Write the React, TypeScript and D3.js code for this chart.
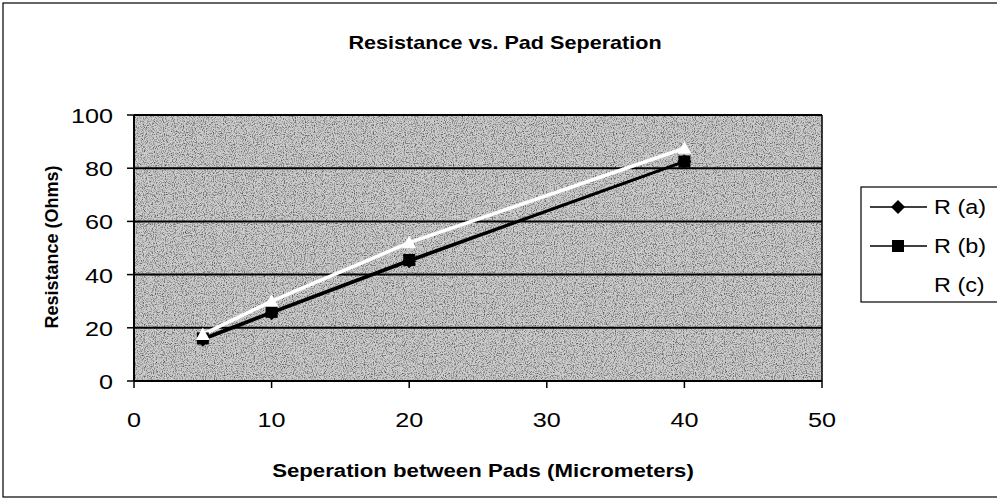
import React from "react";
import * as d3 from "d3";

const xValues = [5, 10, 20, 40];
const seriesA = [15.5, 25.5, 45, 82.5];
const seriesB = [16, 26, 45.5, 82.5];
const seriesC = [17.5, 30, 52, 87.5];
const seriesNames = ["R (a)", "R (b)", "R (c)"];
const xTicks = [0, 10, 20, 30, 40, 50];
const yTicks = [0, 20, 40, 60, 80, 100];

const font = "Arial, 'Liberation Sans', Helvetica, sans-serif";
const SX = 1.2;

function T(props: { x: number; y: number; size: number; anchor?: string; bold?: boolean; children: React.ReactNode }) {
  return (
    <text
      transform={`translate(${props.x},${props.y}) scale(${SX},1)`}
      textAnchor={props.anchor || "start"}
      fontFamily={font}
      fontSize={props.size}
      fontWeight={props.bold ? "bold" : "normal"}
    >
      {props.children}
    </text>
  );
}

export default function App() {
  const W = 997, H = 500;
  const left = 134, right = 822, top = 115, bottom = 381;
  const x = d3.scaleLinear().domain([0, 50]).range([left, right]);
  const y = d3.scaleLinear().domain([0, 100]).range([bottom, top]);
  const line = d3.line<number>().x((_, i) => x(xValues[i])).y((d) => y(d));

  const diamond = (cx: number, cy: number, r: number) =>
    `M${cx},${cy - r}L${cx + r},${cy}L${cx},${cy + r}L${cx - r},${cy}Z`;
  const tri = (cx: number, cy: number, r: number) =>
    `M${cx},${cy - r}L${cx + r},${cy + r * 0.8}L${cx - r},${cy + r * 0.8}Z`;

  const legendY = [207, 246, 285];

  return (
    <svg width={W} height={H} style={{ position: "absolute", left: 0, top: 0, background: "#fff" }}>
      <defs>
        <filter id="noise" x="0" y="0" width="100%" height="100%">
          <feTurbulence type="fractalNoise" baseFrequency="0.9" numOctaves="2" seed="3" result="t" />
          <feColorMatrix type="matrix" values="0 0 0 0 0  0 0 0 0 0  0 0 0 0 0  -2.2 0 0 0 1.2" />
        </filter>
      </defs>
      <rect x={3} y={3} width={1000} height={494} fill="#fff" stroke="#000" strokeWidth={1.2} />
      <T x={505} y={49} size={18} anchor="middle" bold>
        Resistance vs. Pad Seperation
      </T>
      {/* plot area */}
      <rect x={left} y={top} width={right - left} height={bottom - top} fill="#cccccc" />
      <rect x={left} y={top} width={right - left} height={bottom - top} filter="url(#noise)" opacity={0.7} />
      {yTicks.map((t) => (
        <line key={"g" + t} x1={left} x2={right} y1={y(t)} y2={y(t)} stroke="#000" strokeWidth={2} />
      ))}
      <line x1={right} x2={right} y1={top} y2={bottom} stroke="#000" strokeWidth={1.5} />
      <line x1={left} x2={left} y1={top} y2={bottom} stroke="#000" strokeWidth={2} />
      {yTicks.map((t) => (
        <g key={"y" + t}>
          <line x1={left - 7} x2={left} y1={y(t)} y2={y(t)} stroke="#000" strokeWidth={1.5} />
          <T x={113} y={y(t) + 8} size={21} anchor="end">
            {t}
          </T>
        </g>
      ))}
      {xTicks.map((t) => (
        <g key={"x" + t}>
          <line x1={x(t)} x2={x(t)} y1={bottom} y2={bottom + 7} stroke="#000" strokeWidth={1.5} />
          <T x={x(t)} y={427} size={21} anchor="middle">
            {t}
          </T>
        </g>
      ))}
      <T x={483} y={477} size={18.5} anchor="middle" bold>
        Seperation between Pads (Micrometers)
      </T>
      <text
        transform={`translate(58,247) rotate(-90)`}
        textAnchor="middle"
        fontFamily={font}
        fontWeight="bold"
        fontSize={18}
      >
        Resistance (Ohms)
      </text>
      {/* series */}
      <path d={line(seriesC) || ""} fill="none" stroke="#fff" strokeWidth={3.5} />
      <path d={line(seriesA) || ""} fill="none" stroke="#000" strokeWidth={2.5} />
      <path d={line(seriesB) || ""} fill="none" stroke="#000" strokeWidth={2.5} />
      {seriesA.map((v, i) => (
        <path key={"a" + i} d={diamond(x(xValues[i]), y(v), 7)} fill="#000" />
      ))}
      {seriesB.map((v, i) => (
        <rect key={"b" + i} x={x(xValues[i]) - 6} y={y(v) - 6} width={12} height={12} fill="#000" />
      ))}
      {seriesC.map((v, i) => (
        <path key={"c" + i} d={tri(x(xValues[i]), y(v), 7)} fill="#fff" />
      ))}
      {/* legend */}
      <rect x={861} y={187} width={140} height={115} fill="#fff" stroke="#000" strokeWidth={1.2} />
      {seriesNames.map((n, i) => (
        <g key={n}>
          {i < 2 && <line x1={870} x2={927} y1={legendY[i]} y2={legendY[i]} stroke="#000" strokeWidth={1.5} />}
          {i === 0 && <path d={diamond(898, legendY[i], 7)} fill="#000" />}
          {i === 1 && <rect x={892} y={legendY[i] - 6} width={12} height={12} fill="#000" />}
          <T x={934} y={legendY[i] + 7} size={19.5}>
            {n}
          </T>
        </g>
      ))}
    </svg>
  );
}
